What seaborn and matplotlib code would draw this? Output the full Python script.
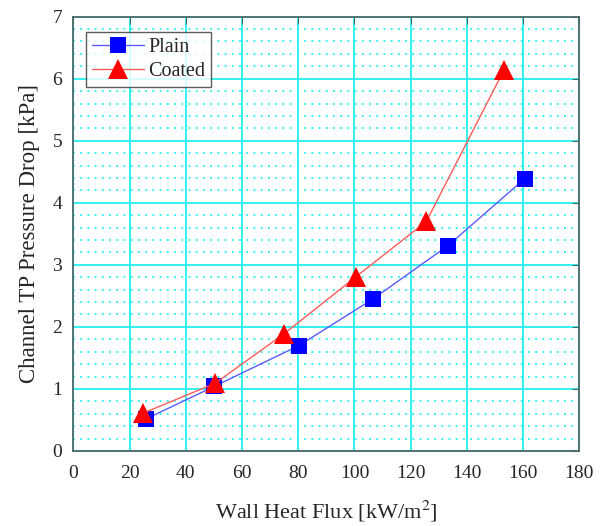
import matplotlib
matplotlib.use("Agg")
import matplotlib.pyplot as plt
import seaborn as sns
import pandas as pd
from matplotlib.ticker import MultipleLocator

# Measured channel two-phase pressure drop vs. wall heat flux
plain_flux = [26.0, 50.1, 80.3, 106.6, 133.3, 160.6]
plain_dp = [0.52, 1.04, 1.70, 2.45, 3.31, 4.39]
coated_flux = [24.8, 50.4, 75.0, 100.6, 125.6, 153.2]
coated_dp = [0.61, 1.09, 1.89, 2.81, 3.70, 6.14]

x_ticks = [0, 20, 40, 60, 80, 100, 120, 140, 160, 180]
y_ticks = [0, 1, 2, 3, 4, 5, 6, 7]

sns.set_style("white")
plt.rcParams["font.family"] = ["Liberation Serif", "DejaVu Serif"]
plt.rcParams["mathtext.fontset"] = "stix"

fig = plt.figure(figsize=(6.03, 5.26), dpi=100)
ax = fig.add_axes([0.1216, 0.1426, 0.8391, 0.8257])

plain = pd.DataFrame({"flux": plain_flux, "dp": plain_dp})
coated = pd.DataFrame({"flux": coated_flux, "dp": coated_dp})

sns.lineplot(data=plain, x="flux", y="dp", ax=ax, sort=False, color="#5a5aff",
             lw=1.0, marker="s", markersize=11, markerfacecolor="#0000ff",
             markeredgecolor="#0000ff", markeredgewidth=0, label="Plain", zorder=4)
sns.lineplot(data=coated, x="flux", y="dp", ax=ax, sort=False, color="#ff5a5a",
             lw=1.0, marker="^", markersize=15, markerfacecolor="#ff0000",
             markeredgecolor="#ff0000", markeredgewidth=0, label="Coated", zorder=5)

ax.set_xlim(0, 180)
ax.set_ylim(0, 7)
ax.set_xticks(x_ticks)
ax.set_yticks(y_ticks)
ax.yaxis.set_minor_locator(MultipleLocator(0.2))

ax.grid(which="major", color="#22f0f0", lw=1.3, ls="-")
ax.grid(which="minor", axis="y", color="#22f0f0", lw=1.3, ls=(0, (1, 3)))
ax.set_axisbelow(True)

spine_color = "#4a6868"
for s in ax.spines.values():
    s.set_color(spine_color)
    s.set_linewidth(1.3)
ax.tick_params(which="major", direction="in", length=5, color=spine_color,
               top=True, right=True, labelsize=14)
ax.tick_params(axis="x", pad=10)
ax.tick_params(axis="y", pad=8)
ax.tick_params(which="minor", length=0)

ax.set_xlabel("Wall Heat Flux [kW/m$^2$]", fontsize=16, labelpad=12)
ax.set_ylabel("Channel TP Pressure Drop [kPa]", fontsize=16.5, labelpad=9)

leg = ax.legend(loc="upper left", bbox_to_anchor=(0.025, 0.965), fontsize=14.5,
                frameon=True, fancybox=False, edgecolor="#333333",
                handlelength=2.6, handletextpad=0.2, borderpad=0.3,
                labelspacing=0.25, borderaxespad=0)
leg.get_frame().set_linewidth(1.0)

fig.savefig("out.png", dpi=100)
